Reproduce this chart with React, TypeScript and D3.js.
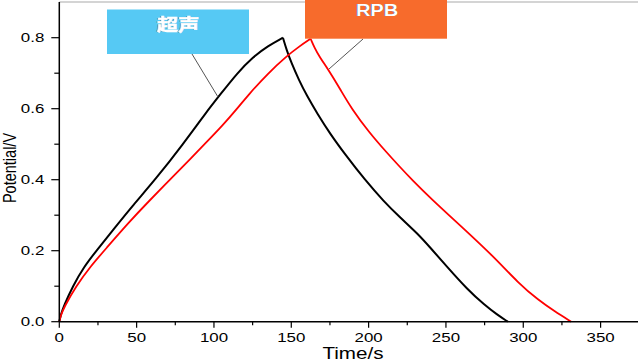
import React from "react";
import * as d3 from "d3";

const W = 638;
const H = 361;

const blackChargeT = [0, 1, 3, 8.7, 16, 24, 35, 48, 62, 80, 95, 105, 115, 125, 135, 144.6];
const blackChargeV = [0, 0.02, 0.045, 0.1, 0.155, 0.2, 0.26, 0.33, 0.4, 0.5, 0.59, 0.645, 0.7, 0.745, 0.777, 0.8];
const blackDisT = [144.6, 147, 150, 155, 160, 167, 175, 185, 197.5, 210, 220, 232, 240, 250, 264, 275, 283, 290];
const blackDisV = [0.8, 0.765, 0.73, 0.68, 0.637, 0.585, 0.53, 0.47, 0.4, 0.338, 0.295, 0.247, 0.208, 0.158, 0.09, 0.047, 0.02, 0];

const redChargeT = [0, 1, 3, 10.8, 20, 30, 45, 58, 71.6, 85, 95, 105, 115, 122, 135, 147, 155, 162.5];
const redChargeV = [0, 0.018, 0.04, 0.1, 0.155, 0.205, 0.28, 0.34, 0.4, 0.46, 0.505, 0.55, 0.6, 0.638, 0.7, 0.748, 0.775, 0.797];
const redDisT = [162.5, 165, 168, 175, 182, 189, 200, 212, 220, 228, 240, 260, 280, 297, 310, 320, 331];
const redDisV = [0.797, 0.772, 0.748, 0.703, 0.652, 0.6, 0.535, 0.475, 0.437, 0.4, 0.348, 0.268, 0.187, 0.108, 0.06, 0.03, 0];

const xTicks = [0, 50, 100, 150, 200, 250, 300, 350];
const xMinor = [25, 75, 125, 175, 225, 275, 325, 375];
const yTicks = [0, 0.2, 0.4, 0.6, 0.8];
const yMinor = [0.1, 0.3, 0.5, 0.7];

const labelNames = ["超声", "RPB"];

const zip = (a: number[], b: number[]): [number, number][] => a.map((t, i) => [t, b[i]]);

export default function App() {
  const x = d3.scaleLinear().domain([0, 350]).range([59.3, 600.6]);
  const y = d3.scaleLinear().domain([0, 0.9]).range([321.7, 2.2]);
  const line = d3
    .line<[number, number]>()
    .x((d) => x(d[0]))
    .y((d) => y(d[1]))
    .curve(d3.curveBasis);
  const font = "Liberation Sans, Arial, sans-serif";
  const x0 = x(0);
  const yb = y(0);
  const sx = 1.3;
  return (
    <svg
      width={W}
      height={H}
      style={{ position: "absolute", left: 0, top: 0, background: "#fff" }}
    >
      <rect width={W} height={H} fill="#fff" />
      <line x1={x0} x2={W} y1={2} y2={2} stroke="#aaa" strokeWidth={1.2} />
      <path d={line(zip(blackChargeT, blackChargeV)) || ""} fill="none" stroke="#000" strokeWidth={2} />
      <path d={line(zip(blackDisT, blackDisV)) || ""} fill="none" stroke="#000" strokeWidth={2} />
      <path d={line(zip(redChargeT, redChargeV)) || ""} fill="none" stroke="#ff0000" strokeWidth={1.8} />
      <path d={line(zip(redDisT, redDisV)) || ""} fill="none" stroke="#ff0000" strokeWidth={1.8} />
      <line x1={x0} x2={x0} y1={2} y2={yb} stroke="#000" strokeWidth={1.5} />
      <line x1={x0} x2={W} y1={yb} y2={yb} stroke="#000" strokeWidth={1.5} />
      {xTicks.map((t) => (
        <g key={"x" + t}>
          <line x1={x(t)} x2={x(t)} y1={yb} y2={yb + 6} stroke="#000" strokeWidth={1.2} />
          <text
            transform={`translate(${x(t)},${yb + 20.5}) scale(${sx},1)`}
            textAnchor="middle"
            fontFamily={font}
            fontSize={13}
            fill="#000"
          >
            {t}
          </text>
        </g>
      ))}
      {xMinor.map((t) => (
        <line key={"xm" + t} x1={x(t)} x2={x(t)} y1={yb} y2={yb + 3.5} stroke="#000" strokeWidth={1.2} />
      ))}
      {yTicks.map((t) => (
        <g key={"y" + t}>
          <line x1={x0 - 8} x2={x0} y1={y(t)} y2={y(t)} stroke="#000" strokeWidth={1.2} />
          <text
            transform={`translate(${x0 - 15},${y(t) + 4.5}) scale(${sx},1)`}
            textAnchor="end"
            fontFamily={font}
            fontSize={13}
            fill="#000"
          >
            {t.toFixed(1)}
          </text>
        </g>
      ))}
      {yMinor.map((t) => (
        <line key={"ym" + t} x1={x0 - 5} x2={x0} y1={y(t)} y2={y(t)} stroke="#000" strokeWidth={1.2} />
      ))}
      <text
        transform={`translate(353,358.5) scale(1.25,1)`}
        textAnchor="middle"
        fontFamily={font}
        fontSize={16.5}
        fill="#000"
      >
        Time/s
      </text>
      <text
        transform={`translate(16,168) rotate(-90) scale(1,1.25)`}
        textAnchor="middle"
        fontFamily={font}
        fontSize={14.5}
        fill="#000"
      >
        Potential/V
      </text>
      <line x1={192} y1={54} x2={218} y2={97} stroke="#555" strokeWidth={1} />
      <line x1={363} y1={39} x2={329} y2={69} stroke="#555" strokeWidth={1} />
      <rect x={107} y={9.5} width={142} height={44.5} fill="#56C9F4" />
      <text
        transform={`translate(177.3,31.3) scale(1.25,1)`}
        textAnchor="middle"
        fontFamily="Noto Sans CJK SC, sans-serif"
        fontWeight="bold"
        fontSize={17}
        fill="#334a66"
      >
        {labelNames[0]}
      </text>
      <text
        transform={`translate(178,30.6) scale(1.25,1)`}
        textAnchor="middle"
        fontFamily="Noto Sans CJK SC, sans-serif"
        fontWeight="bold"
        fontSize={17}
        fill="#fff"
        stroke="#fff"
        strokeWidth={0.5}
      >
        {labelNames[0]}
      </text>
      <rect x={305} y={0} width={142} height={38.7} fill="#F76B2C" />
      <text
        transform={`translate(376.3,16.3) scale(1.25,1)`}
        textAnchor="middle"
        fontFamily={font}
        fontWeight="bold"
        fontSize={16}
        fill="#4a5a80"
      >
        {labelNames[1]}
      </text>
      <text
        transform={`translate(377,15.6) scale(1.25,1)`}
        textAnchor="middle"
        fontFamily={font}
        fontWeight="bold"
        fontSize={16}
        fill="#fff"
      >
        {labelNames[1]}
      </text>
    </svg>
  );
}
